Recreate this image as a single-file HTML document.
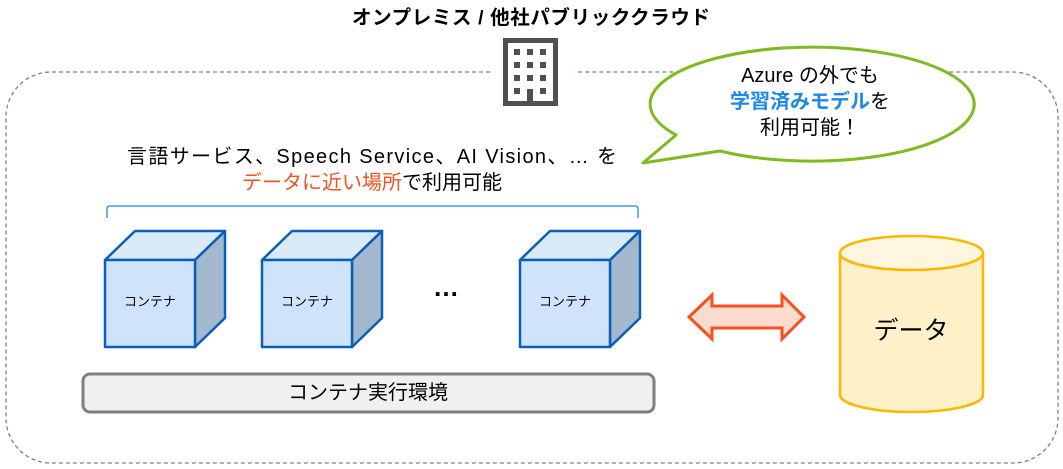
<!DOCTYPE html>
<html><head><meta charset="utf-8"><style>
html,body{margin:0;padding:0;background:#fff;}
svg{display:block;font-family:"Liberation Sans","Noto Sans CJK JP",sans-serif;}
</style></head><body>
<svg width="1063" height="469" viewBox="0 0 1063 469" xmlns="http://www.w3.org/2000/svg">
<path d="M490 72 H51 A45 45 0 0 0 6 117 V418 A45 45 0 0 0 51 463 H1013 A45 45 0 0 0 1058 418 V117 A45 45 0 0 0 1013 72 H575" fill="none" stroke="#808080" stroke-width="1.3" stroke-dasharray="4,3"/>
<text x="531" y="24" text-anchor="middle" font-size="19.5" font-weight="bold" fill="#000" textLength="358">オンプレミス / 他社パブリッククラウド</text>
<rect x="505.5" y="40.5" width="50" height="63" fill="#fff" stroke="#505050" stroke-width="5"/>
<g fill="#505050">
<rect x="514" y="49" width="6" height="6"/><rect x="527" y="49" width="6" height="6"/><rect x="540" y="49" width="6" height="6"/>
<rect x="514" y="62" width="6" height="6"/><rect x="527" y="62" width="6" height="6"/><rect x="540" y="62" width="6" height="6"/>
<rect x="514" y="75" width="6" height="6"/><rect x="527" y="75" width="6" height="6"/><rect x="540" y="75" width="6" height="6"/>
<rect x="514" y="88" width="6" height="6"/><rect x="540" y="88" width="6" height="6"/>
<rect x="527" y="89" width="6" height="14"/>
</g>
<path d="M676 135 A162 57 0 1 1 720 151 L643 163 Z" fill="#fff" stroke="#7fba1f" stroke-width="3" stroke-linejoin="round"/>
<text x="810" y="82" text-anchor="middle" font-size="20" fill="#000">Azure の外でも</text>
<text x="810" y="108" text-anchor="middle" font-size="20"><tspan fill="#1e88e5" font-weight="bold">学習済みモデル</tspan><tspan fill="#000">を</tspan></text>
<text x="810" y="134" text-anchor="middle" font-size="20" fill="#000">利用可能！</text>
<text x="372" y="163" text-anchor="middle" font-size="20" fill="#000" textLength="490">言語サービス、Speech Service、AI Vision、… を</text>
<text x="372" y="189" text-anchor="middle" font-size="20"><tspan fill="#f4511e">データに近い場所</tspan><tspan fill="#000">で利用可能</tspan></text>
<path d="M107 218 V209 Q107 206 110 206 H635 Q638 206 638 209 V218" fill="none" stroke="#1e88e5" stroke-width="1.3"/>
<g id="c1" stroke="#0b5fb8" stroke-width="2.5" stroke-linejoin="round">
<polygon points="105,260 135,231 225,231 195,260" fill="#daeaf9"/>
<polygon points="195,260 225,231 225,318 195,347" fill="#a3b8cc"/>
<rect x="105" y="260" width="90" height="87" fill="#cfe4fa"/>
</g>
<use href="#c1" x="157"/>
<use href="#c1" x="415"/>
<g font-size="13" fill="#000" text-anchor="middle">
<text x="150" y="306">コンテナ</text>
<text x="307" y="306">コンテナ</text>
<text x="565" y="306">コンテナ</text>
</g>
<text x="446" y="296" text-anchor="middle" font-size="26" font-weight="bold" fill="#000">…</text>
<rect x="83" y="374" width="571" height="38" rx="7" fill="#f0f0f0" stroke="#7f7f7f" stroke-width="3"/>
<text x="368" y="399" text-anchor="middle" font-size="20" fill="#000">コンテナ実行環境</text>
<polygon points="689,317 712,295 712,306 782,306 782,295 804,317 782,339 782,328 712,328 712,339" fill="#fcdccf" stroke="#f4511e" stroke-width="3" stroke-linejoin="miter"/>
<path d="M840 253 V395 A71.5 17 0 0 0 983 395 V253" fill="#fff0c9" stroke="#fbb800" stroke-width="2.5"/>
<ellipse cx="911.5" cy="253" rx="71.5" ry="17" fill="#fff6df" stroke="#fbb800" stroke-width="2.5"/>
<text x="911" y="339" text-anchor="middle" font-size="25" fill="#000">データ</text>
</svg>
</body></html>
